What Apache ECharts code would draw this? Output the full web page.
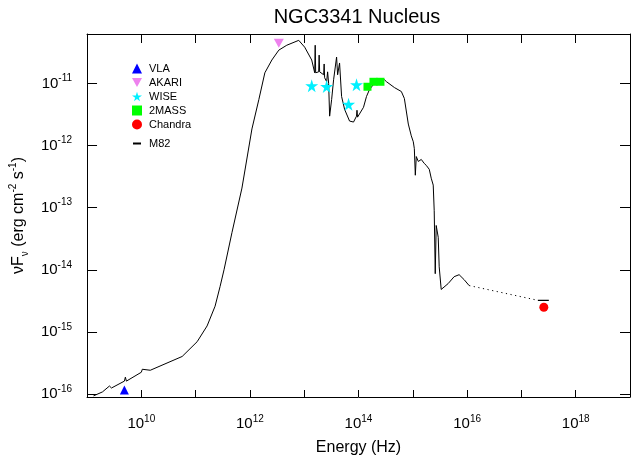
<!DOCTYPE html>
<html>
<head>
<meta charset="utf-8">
<script src="https://cdn.jsdelivr.net/npm/echarts@6/dist/echarts.min.js"></script>
<style>html,body{margin:0;padding:0;background:#fff}#c{width:633px;height:461px}</style>
</head>
<body>
<div id="c"></div>
<script>
// All values are log10 exponents: log10(nu/Hz), log10(nuF_nu / erg cm^-2 s^-1)
var m82LogNu = [9.119, 9.284, 9.413, 9.450, 9.688, 9.706, 9.725, 10.0, 10.018, 10.165, 10.752, 11.028, 11.211, 11.358, 11.450, 11.523, 11.670, 11.853, 12.037, 12.165, 12.275, 12.404, 12.532, 12.679, 12.899, 13.009, 13.138, 13.193, 13.202, 13.211, 13.266, 13.275, 13.284, 13.358, 13.367, 13.376, 13.413, 13.431, 13.450, 13.468, 13.505, 13.541, 13.596, 13.615, 13.651, 13.688, 13.743, 13.835, 13.908, 13.963, 13.972, 13.982, 14.018, 14.092, 14.147, 14.202, 14.330, 14.477, 14.514, 14.661, 14.789, 14.844, 14.917, 14.972, 15.009, 15.028, 15.046, 15.064, 15.101, 15.156, 15.211, 15.248, 15.303, 15.339, 15.376, 15.394, 15.413, 15.431, 15.468, 15.486, 15.523, 15.651, 15.761, 15.853, 15.945, 16.037];
var m82LogF  = [-16.032, -15.968, -15.873, -15.905, -15.794, -15.730, -15.794, -15.651, -15.603, -15.619, -15.397, -15.159, -14.905, -14.587, -14.270, -14.0, -13.397, -12.683, -11.730, -11.254, -10.825, -10.619, -10.460, -10.381, -10.302, -10.413, -10.619, -10.825, -10.381, -10.825, -10.810, -10.540, -10.810, -10.857, -10.683, -10.905, -10.968, -10.810, -11.0, -11.524, -11.254, -10.937, -10.571, -10.857, -10.667, -11.206, -11.413, -11.603, -11.619, -11.524, -11.429, -11.540, -11.508, -11.381, -11.206, -11.095, -10.952, -10.937, -10.968, -11.063, -11.127, -11.238, -11.651, -11.841, -11.937, -12.048, -12.476, -12.175, -12.254, -12.222, -12.286, -12.317, -12.381, -12.524, -12.635, -13.048, -14.063, -13.286, -13.476, -13.952, -14.317, -14.222, -14.111, -14.079, -14.159, -14.254];
var m82DotLogNu = [16.037, 17.303];
var m82DotLogF  = [-14.254, -14.492];
var m82EndLogNu = [17.303, 17.505];
var m82EndLogF  = [-14.492, -14.492];

var vlaLogNu = [9.688];         var vlaLogF = [-15.937];
var akariLogNu = [12.532];      var akariLogF = [-10.349];
var wiseLogNu = [13.138, 13.413, 13.817, 13.963];
var wiseLogF  = [-11.032, -11.048, -11.333, -11.016];
var twomassLogNu = [14.165, 14.275, 14.404];
var twomassLogF  = [-11.05, -10.97, -10.97];
var chandraLogNu = [17.413];    var chandraLogF = [-14.603];

var xTickExponents = [10, 12, 14, 16, 18];
var yTickExponents = [-16, -15, -14, -13, -12, -11];

function pairs(a, b) { return a.map(function (v, i) { return [v, b[i]]; }); }

var FONT = '"Liberation Sans", Arial, Helvetica, sans-serif';
var starPath = 'path://M50,0 L61,35 L98,35 L68,57 L79,91 L50,70 L21,91 L32,57 L2,35 L39,35 Z';
var downTri = 'path://M0,0 L10,0 L5,9 Z';

var labelRich = {
  b: { fontSize: 15, lineHeight: 20, fontFamily: FONT, color: '#000' },
  s: { fontSize: 10, lineHeight: 10, verticalAlign: 'top', fontFamily: FONT, color: '#000' }
};
function isInt(v) { return Math.abs(v - Math.round(v)) < 1e-6; }

var chart = echarts.init(document.getElementById('c'), null, { renderer: 'canvas' });
var axisLine = { show: true, lineStyle: { color: '#000', width: 1 } };
chart.setOption({
  animation: false,
  backgroundColor: '#fff',
  title: {
    text: 'NGC3341 Nucleus', left: 357, top: 7, textAlign: 'center', padding: 0,
    textStyle: { fontFamily: FONT, fontSize: 20, fontWeight: 'normal', color: '#000' }
  },
  grid: { left: 84, right: 2, top: 34, bottom: 59, containLabel: false },
  legend: [{
    orient: 'vertical', left: 127, top: 58, itemWidth: 10, itemHeight: 10, itemGap: 3,
    selectedMode: false,
    textStyle: { fontFamily: FONT, fontSize: 11, color: '#000', padding: [0, 0, 0, 2] },
    data: ['VLA', 'AKARI', 'WISE', '2MASS', 'Chandra']
  }, {
    orient: 'vertical', left: 128, top: 133, itemWidth: 8, itemHeight: 2,
    selectedMode: false,
    textStyle: { fontFamily: FONT, fontSize: 11, color: '#000', padding: [0, 0, 0, 3] },
    data: [{ name: 'M82', icon: 'rect' }]
  }],
  xAxis: [{
    type: 'value', min: 9, max: 19, splitNumber: 10, position: 'bottom',
    name: 'Energy (Hz)', nameLocation: 'middle', nameGap: 43,
    nameTextStyle: { fontFamily: FONT, fontSize: 16, color: '#000' },
    axisLine: axisLine,
    axisTick: { show: true, inside: true, length: 7, lineStyle: { color: '#000' } },
    splitLine: { show: false },
    axisLabel: {
      margin: 17, rich: labelRich,
      formatter: function (v) {
        if (!isInt(v)) return '';
        var e = Math.round(v);
        if (xTickExponents.indexOf(e) < 0) return '';
        return '{b|10}{s|' + e + '}';
      }
    }
  }, {
    type: 'value', min: 9, max: 19, splitNumber: 10, position: 'top',
    axisLine: axisLine,
    axisTick: { show: true, inside: true, length: 9, lineStyle: { color: '#000' } },
    splitLine: { show: false }, axisLabel: { show: false }
  }],
  yAxis: [{
    type: 'value', min: -16.05, max: -10.2, splitNumber: 6, position: 'left',
    name: '{n|νF}{sub|ν}{n| (erg cm}{sup|-2}{n| s}{sup|-1}{n|)}',
    nameLocation: 'middle', nameGap: 42, nameRotate: 90,
    nameTextStyle: {
      rich: {
        n: { fontFamily: FONT, fontSize: 16, lineHeight: 22, color: '#000' },
        sub: { fontFamily: FONT, fontSize: 10, lineHeight: 12, verticalAlign: 'bottom', color: '#000' },
        sup: { fontFamily: FONT, fontSize: 10, lineHeight: 12, verticalAlign: 'top', color: '#000' }
      }
    },
    axisLine: axisLine,
    axisTick: { show: true, inside: true, length: 10, lineStyle: { color: '#000' } },
    splitLine: { show: false },
    axisLabel: {
      margin: 15, rich: labelRich,
      formatter: function (v) {
        if (!isInt(v)) return '';
        var e = Math.round(v);
        if (yTickExponents.indexOf(e) < 0) return '';
        return '{b|10}{s|' + e + '}';
      }
    }
  }, {
    type: 'value', min: -16.05, max: -10.2, splitNumber: 6, position: 'right',
    axisLine: axisLine,
    axisTick: { show: true, inside: true, length: 10, lineStyle: { color: '#000' } },
    splitLine: { show: false }, axisLabel: { show: false }
  }],
  series: [
    { name: 'M82', type: 'line', data: pairs(m82LogNu, m82LogF), showSymbol: false, symbol: 'none',
      color: '#000', lineStyle: { color: '#000', width: 1 }, z: 2 },
    { name: 'M82', type: 'line', data: pairs(m82DotLogNu, m82DotLogF), showSymbol: false, symbol: 'none',
      color: '#000', lineStyle: { color: '#000', width: 1, type: [1.2, 3.5] }, z: 2 },
    { name: 'M82', type: 'line', data: pairs(m82EndLogNu, m82EndLogF), showSymbol: false, symbol: 'none',
      color: '#000', lineStyle: { color: '#000', width: 1.2 }, z: 2 },
    { name: 'VLA', type: 'scatter', data: pairs(vlaLogNu, vlaLogF), symbol: 'triangle', symbolSize: 9,
      itemStyle: { color: '#0000ff', opacity: 1 }, z: 3 },
    { name: 'AKARI', type: 'scatter', data: pairs(akariLogNu, akariLogF), symbol: downTri, symbolSize: [10, 9],
      itemStyle: { color: '#ee82ee', opacity: 1 }, z: 3 },
    { name: 'WISE', type: 'scatter', data: pairs(wiseLogNu, wiseLogF), symbol: starPath, symbolSize: 13,
      itemStyle: { color: '#00f0ff', opacity: 1 }, z: 3 },
    { name: '2MASS', type: 'scatter', data: pairs(twomassLogNu, twomassLogF), symbol: 'rect', symbolSize: 8,
      itemStyle: { color: '#00ff00', opacity: 1 }, z: 3 },
    { name: 'Chandra', type: 'scatter', data: pairs(chandraLogNu, chandraLogF), symbol: 'circle', symbolSize: 9,
      itemStyle: { color: '#ff0000', opacity: 1 }, z: 3 }
  ]
});
</script>
</body>
</html>
